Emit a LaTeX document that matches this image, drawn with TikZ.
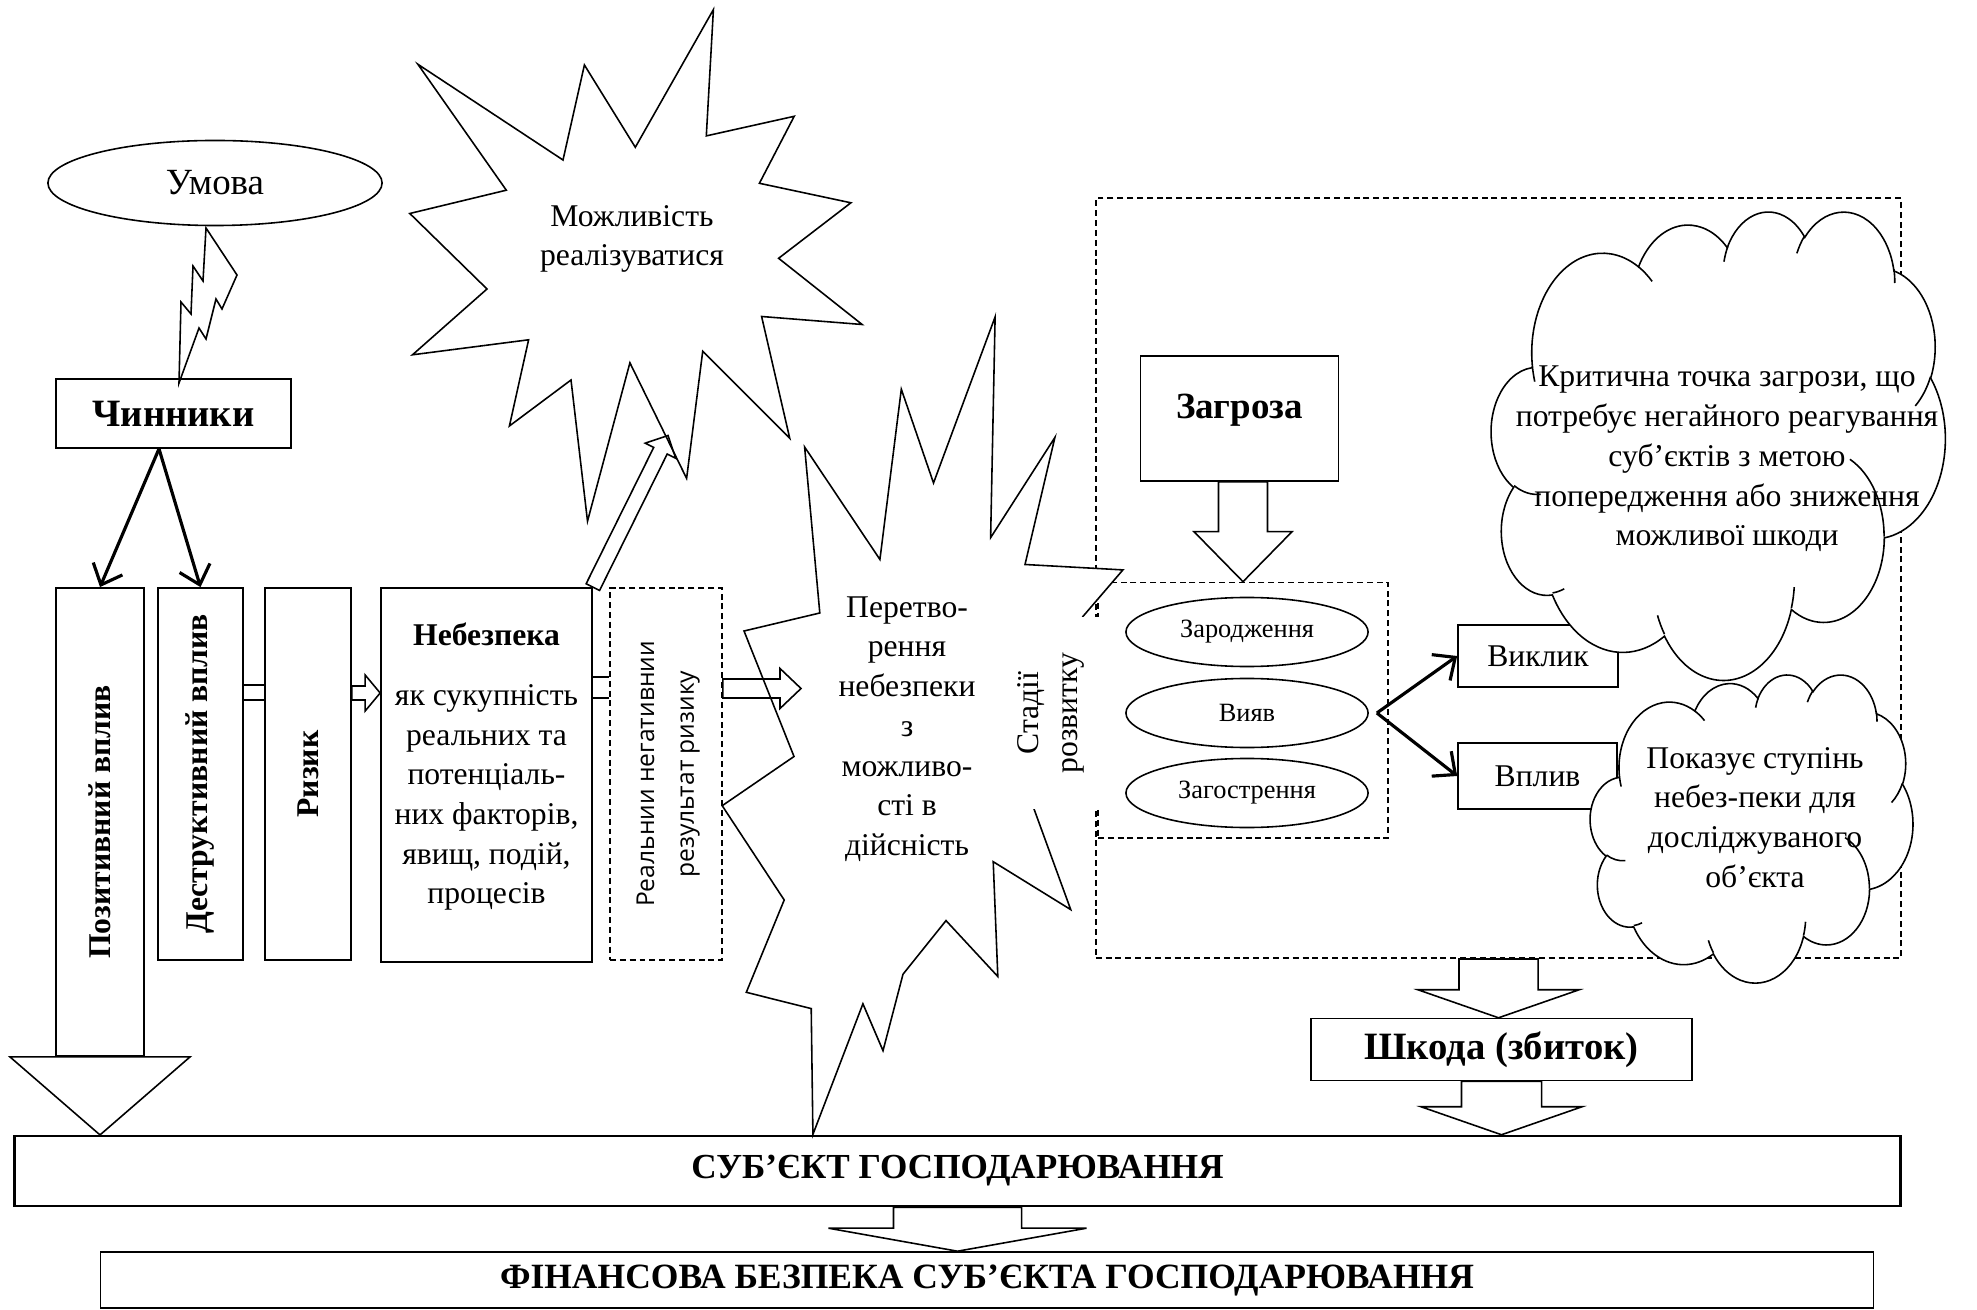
\documentclass[tikz,border=0pt]{standalone}
\usepackage{fontspec}
\setmainfont{Liberation Serif}
\newfontfamily\sansf{Open Sans}
\usetikzlibrary{shapes.geometric,calc,arrows.meta}

\newcommand{\flechecreuse}[5]{%
  \draw[creuse] ($(#1)!#3!90:(#2)$) -- ($(#2)!#5!(#1)!#3!90:(#2)$)
    -- ($(#2)!#5!(#1)!#4!90:(#2)$) -- (#2)
    -- ($(#2)!#5!(#1)!#4!-90:(#2)$) -- ($(#2)!#5!(#1)!#3!-90:(#2)$)
    -- ($(#1)!#3!-90:(#2)$) -- cycle;}

\newcommand{\arcv}[4]{arc[x radius=#1, y radius=#2,
  start angle={atan2(#1*sin(#3),#2*cos(#3))},
  delta angle={mod(atan2(#1*sin(#3+#4),#2*cos(#3+#4))-atan2(#1*sin(#3),#2*cos(#3))+720,360)}]}

\newcommand{\nuage}[4]{%
\begin{scope}[shift={(#1,#2)}, x=#3cm, y=-#4cm]
\filldraw[fill=white, line width=0.45pt] (39,143.7)
  \arcv{67.53}{91.9}{-190.4875}{123.7805}
  \arcv{53.33}{72.67}{-144.1024}{89.9452}
  \arcv{43.65}{59.45}{-145.8079}{99.723}
  \arcv{48.57}{65.95}{-130.9861}{117.2417}
  \arcv{53.33}{72.73}{-78.7089}{109.0269}
  \arcv{67.75}{92.2}{-46.2673}{130.269}
  \arcv{57.85}{78.67}{0.625}{114.0333}
  \arcv{67.52}{92.15}{22.4516}{115.1726}
  \arcv{77.2}{105.43}{66.2426}{75.711}
  \arcv{43.6}{59.18}{-274.9421}{146.7356}
  \arcv{43.45}{59.45}{-246.8285}{152.5189} -- cycle;
\draw[line width=0.45pt]
  (46.93,261.77) \arcv{43.45}{59.45}{86.742}{26.4295}
  (69.28,348.99) \arcv{43.6}{59.18}{73.6105}{11.4475}
  (164.78,390.9) \arcv{67.52}{92.15}{137.6242}{14.0811}
  (288.27,347.51) \arcv{67.52}{92.15}{6.4533}{15.9984}
  (341.29,229.54) \arcv{57.85}{78.67}{-70.2924}{70.9174}
  (417.98,153.54) \arcv{53.33}{72.73}{30.318}{27.7515}
  (383.24,54.26) \arcv{48.57}{65.95}{-13.7443}{14.8589}
  (290.78,39.52) \arcv{48.57}{65.95}{-149.1815}{18.1954}
  (221.41,47.2) \arcv{43.65}{59.45}{-163.4943}{17.6864}
  (140,51.92) \arcv{67.53}{91.9}{-66.707}{12.3194}
  (41.27,157.89) \arcv{67.53}{91.9}{157.6544}{11.8582};
\end{scope}}

\begin{document}
\begin{tikzpicture}[x=0.01cm,y=-0.01cm]
\tikzstyle{cadre} = [draw, rectangle, line width=0.45pt, inner sep=0pt];
\tikzstyle{pointille} = [cadre, dash pattern=on 1.7pt off 1.1pt];
\tikzstyle{ovale} = [draw, ellipse, line width=0.45pt, inner sep=0pt];
\tikzstyle{trait} = [line width=0.45pt, line join=miter];
\tikzstyle{creuse} = [line width=0.45pt, line join=miter];
\tikzstyle{fleche} = [line width=0.9pt, -{Straight Barb[length=5pt,width=9pt]}];
\tikzstyle{t9} = [font=\fontsize{9}{11.3}\selectfont, align=center, inner sep=0pt];
\tikzstyle{g9} = [font=\fontsize{9}{11.3}\selectfont\bfseries];

\useasboundingbox (0,0) rectangle (1977,1310);

% zone de la menace
\node[pointille, minimum width=8.05cm, minimum height=7.595cm] (zona) at (1498.5,578.25) {};
\node[pointille, minimum width=2.90cm, minimum height=2.555cm] (etapy) at (1243,710.3) {};

\filldraw[trait, fill=white] (804.6,447) -- (879.9,559.5) -- (901.3,389.2) -- (933.5,483) -- (995.1,316.9)
  -- (990.6,537.7) -- (1054.9,437.4) -- (1025,564.5) -- (1122.9,569.9) -- (1082.7,616.7) -- (1034,809)
  -- (1070.7,909.6) -- (993.2,861.7) -- (997.8,976.5) -- (946,920.6) -- (903,974.2) -- (883,1050.7)
  -- (862.9,1003.8) -- (812.9,1134.4) -- (811.2,1008.6) -- (746.3,992.3) -- (784.2,900) -- (722.2,805.7)
  -- (794,756.5) -- (744,631) -- (819.8,613) -- cycle;
\node[t9] (peretvorennia) at (907,729) {Перетво-\\рення\\небезпеки\\з\\можливо-\\сті в\\дійсність};

\node[fill=white, inner sep=0pt, minimum width=1.0cm, minimum height=1.92cm] (stadii) at (1050,713)
  {\rotatebox{90}{\fontsize{9}{11.3}\selectfont\begin{tabular}{@{}c@{}}Стадії\\розвитку\end{tabular}}};

\foreach \nom/\y/\texte in {zarodzhennia/632/Зародження, vyiav/713/Вияв, zahostrennia/793/Загострення}
  \node[ovale, minimum width=2.42cm, minimum height=0.69cm, font=\fontsize{7.5}{9}\selectfont] (\nom) at (1247,\y) {\texte};

\node[cadre, minimum width=1.98cm, minimum height=1.25cm] (zagroza) at (1239.5,418.5) {};
\node[font=\fontsize{10.5}{12}\selectfont\bfseries] (zagrozatxt) at (1239.5,410) {Загроза};
\coordinate (z1) at (etapy.north |- zagroza.south);
\flechecreuse{z1}{etapy.north}{0.245cm}{0.49cm}{0.50cm}

\node[cadre, minimum width=1.60cm, minimum height=0.62cm, font=\fontsize{9}{11}\selectfont] (vyklyk) at (1538,656) {Виклик};
\node[cadre, minimum width=1.59cm, minimum height=0.66cm, font=\fontsize{9}{11}\selectfont] (vplyv) at (1537.5,776) {Вплив};
\draw[fleche] ($(vyiav.east)+(8,0)$) -- (vyklyk.west);
\draw[fleche] ($(vyiav.east)+(8,0)$) -- (vplyv.west);

\nuage{1491.4}{210.5}{0.010495}{0.010829}
\node[t9] (critique) at (1727,459) {Критична точка загрози, що\\потребує негайного реагування\\суб’єктів з метою\\попередження або зниження\\можливої шкоди};
\nuage{1590.3}{674}{0.007466}{0.007126}
\node[t9] (degre) at (1755,817.5) {Показує ступінь\\небез-пеки для\\досліджуваного\\об’єкта};

% partie gauche
\node[ovale, minimum width=3.34cm, minimum height=0.85cm, font=\fontsize{10.5}{12}\selectfont] (umova) at (215,183) {Умова};
\node[cadre, minimum width=2.35cm, minimum height=0.69cm, font=\fontsize{11}{13}\selectfont\bfseries] (chynnyky) at (173.5,413.5) {Чинники};
\draw[trait] (206,228) -- (237,275) -- (222,309) -- (216,299) -- (206,339) -- (199,328) -- (179,383)
  -- (181,302) -- (191,314) -- (193,266) -- (203,281) -- cycle;

\node[cadre, g9, minimum width=0.88cm, minimum height=4.68cm] (pozytyvnyi) at (100,822) {\rotatebox{90}{Позитивний вплив}};
\draw[trait] ($(pozytyvnyi.south)+(-90,0)$) -- ($(pozytyvnyi.south)+(90,0)$) -- ($(pozytyvnyi.south)+(0,78)$) -- cycle;
\node[cadre, g9, minimum width=0.85cm, minimum height=3.72cm] (destruktyvnyi) at (200.5,774) {\rotatebox{90}{Деструктивний вплив}};
\node[cadre, g9, minimum width=0.86cm, minimum height=3.72cm] (ryzyk) at (308,774) {\rotatebox{90}{Ризик}};
\node[cadre, minimum width=2.11cm, minimum height=3.74cm] (nebezpeka) at (486.5,775) {};
\node[g9] (nebtitre) at (486.5,634) {Небезпека};
\node[t9] (nebtexte) at (486.5,797.5) {як сукупність\\реальних та\\потенціаль-\\них факторів,\\явищ, подій,\\процесів};
\node[pointille, minimum width=1.12cm, minimum height=3.72cm] (rezultat) at (666,774)
  {\rotatebox{90}{\sansf\fontsize{7}{11.3}\selectfont\begin{tabular}{@{}c@{}}Реальнии негативнии\\результат ризику\end{tabular}}\hspace{0.16cm}};

\draw[fleche] (chynnyky.south -| 159,0) -- (pozytyvnyi.north);
\draw[fleche] (chynnyky.south -| 159,0) -- (destruktyvnyi.north);

\foreach \y in {685,700}
  \draw[trait] (destruktyvnyi.east |- 0,\y) -- (ryzyk.west |- 0,\y);
\foreach \y in {677,698}
  \draw[trait] (nebezpeka.east |- 0,\y) -- (rezultat.west |- 0,\y);
\coordinate (r1) at (ryzyk.east |- 0,693);
\coordinate (n1) at (nebezpeka.west |- 0,693);
\flechecreuse{r1}{n1}{0.07cm}{0.18cm}{0.15cm}
\coordinate (r2) at (rezultat.east |- 0,688.5);
\coordinate (ptip) at (801,688.5);
\flechecreuse{r2}{ptip}{0.095cm}{0.20cm}{0.21cm}

\filldraw[trait, fill=white] (713.4,9.6) -- (706.3,135.9) -- (794.2,116.3) -- (759.4,183.3) -- (850.9,202.8)
  -- (778.6,258.3) -- (862.1,324.5) -- (761.6,316.5) -- (789.7,438.2) -- (702.7,351.3) -- (686.6,478.4)
  -- (629.9,362.8) -- (587.5,521.2) -- (571,380) -- (509.4,426) -- (528.6,339.8) -- (412.5,354.8)
  -- (487,289) -- (409.8,213.5) -- (506.3,190.2) -- (417.9,64.3) -- (563,160) -- (584.4,65) -- (635.3,147.3) -- cycle;
\node[t9] (mozhlyvist) at (632,239) {Можливість\\реалізуватися};
\coordinate (mtip) at (668,435.5);
\flechecreuse{nebezpeka.north east}{mtip}{0.075cm}{0.17cm}{0.17cm}

% bas
\node[cadre, minimum width=3.81cm, minimum height=0.62cm, font=\fontsize{11}{13}\selectfont\bfseries] (shkoda) at (1501.5,1049.6) {Шкода (збиток)};
\node[cadre, line width=0.7pt, minimum width=18.85cm, minimum height=0.70cm, font=\fontsize{10}{12}\selectfont\bfseries] (subiekt) at (957.5,1171) {СУБ’ЄКТ ГОСПОДАРЮВАННЯ};
\node[cadre, minimum width=17.72cm, minimum height=0.56cm, font=\fontsize{10.1}{12}\selectfont\bfseries] (finansova) at (987,1280) {ФІНАНСОВА БЕЗПЕКА СУБ’ЄКТА ГОСПОДАРЮВАННЯ};

\coordinate (s1) at (shkoda.north -| zona.south);
\flechecreuse{zona.south}{s1}{0.395cm}{0.805cm}{0.28cm}
\coordinate (s2) at (shkoda.south |- subiekt.north);
\flechecreuse{shkoda.south}{s2}{0.40cm}{0.805cm}{0.28cm}
\coordinate (f1) at (subiekt.south |- finansova.north);
\flechecreuse{subiekt.south}{f1}{0.64cm}{1.29cm}{0.23cm}

\end{tikzpicture}
\end{document}
